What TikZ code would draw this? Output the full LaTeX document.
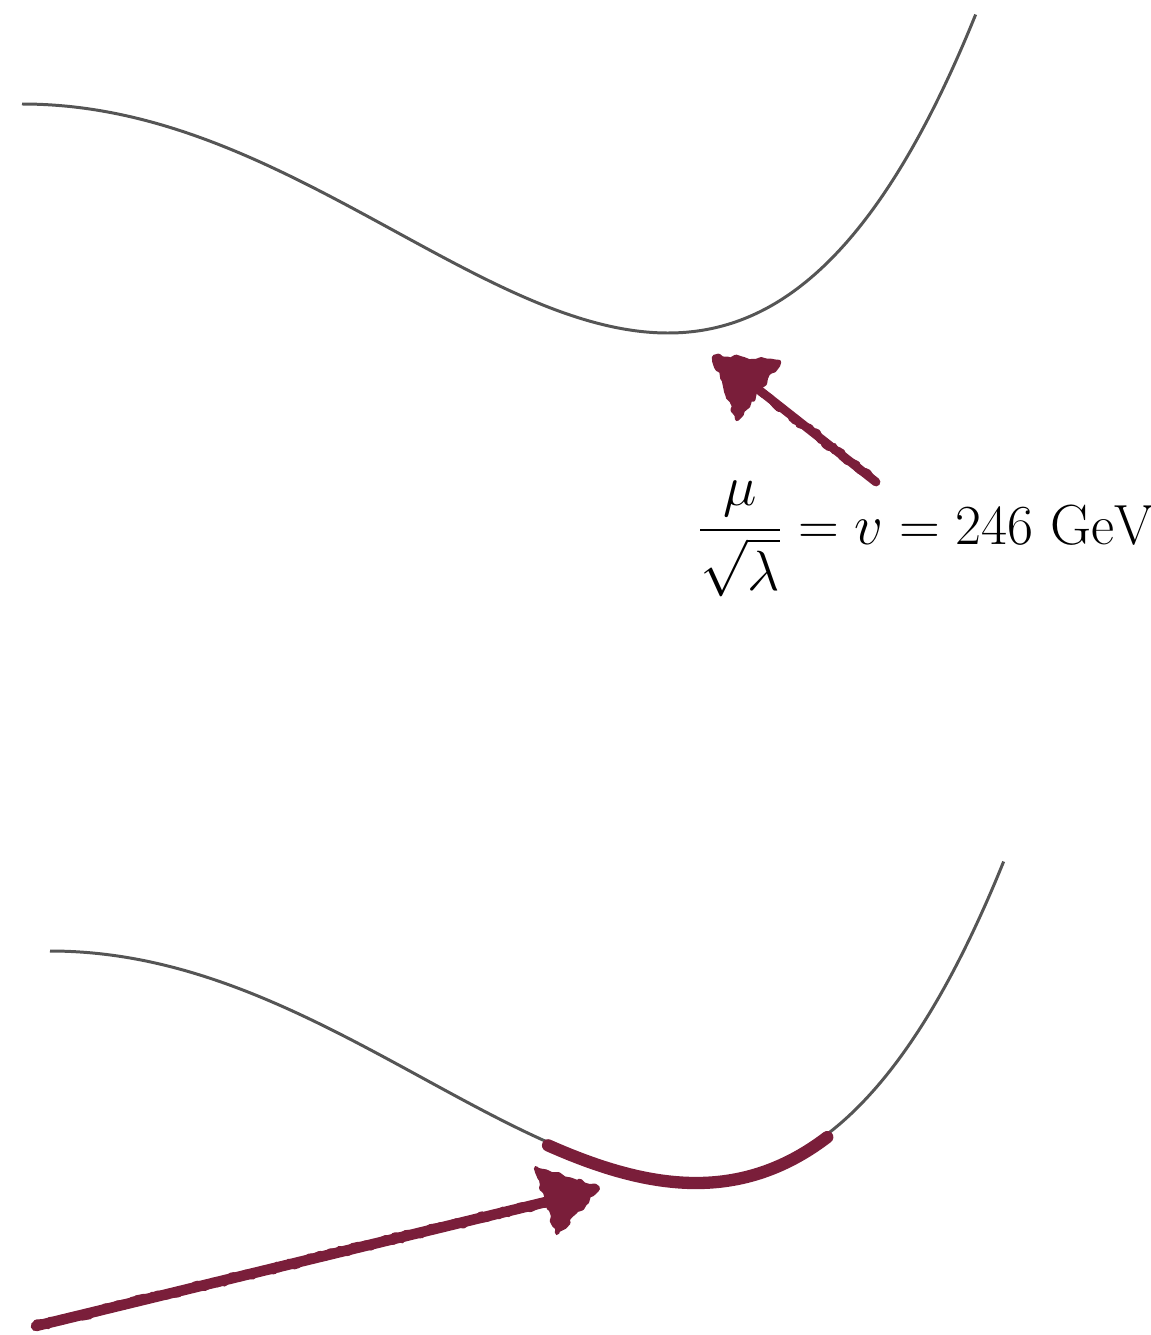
\documentclass[tikz,border=0pt]{standalone}
\usepackage{amsmath}
\usetikzlibrary{decorations.pathmorphing}
\definecolor{maroon}{RGB}{122,30,58}
\definecolor{curvegray}{RGB}{85,85,85}
\tikzset{
  potential/.style={draw=curvegray, line width=1.7pt},
  chalk/.style={draw=maroon, line width=#1, line cap=round, line join=round},
  chalkrough/.style={draw=maroon, line width=#1, line cap=round, line join=round,
     decorate, decoration={random steps, segment length=2pt, amplitude=1.4pt}},
  chalkhead/.style={fill=maroon, draw=maroon, line width=2.5pt, line join=round,
     decorate, decoration={random steps, segment length=2.5pt, amplitude=1.2pt}},
  label/.style={inner sep=0pt, font=\fontsize{24.88}{30}\selectfont, scale=1.295}
}
\begin{document}
\begin{tikzpicture}[x=0.02cm, y=-0.02cm]
\useasboundingbox (0,0) rectangle (1151,1335);
% top potential
\draw[potential] plot[domain=0:1.478, samples=120, smooth] ({22+646*\x},{104-229*(\x*\x*\x*\x-2*\x*\x)});
% bottom potential
\draw[potential] plot[domain=0:1.478, samples=120, smooth] ({50+646*\x},{951-229*(\x*\x*\x*\x-2*\x*\x)});
% highlight near the minimum
\draw[chalk=7pt] plot[domain=0.771:1.204, samples=60, smooth] ({50+646*\x},{954-229*(\x*\x*\x*\x-2*\x*\x)});
% top arrow
\coordinate (tailA) at (876,482);
\coordinate (neckA) at (754,386);
\coordinate (tipA) at (714,357);
\coordinate (wingA1) at (779,362);
\coordinate (wingA2) at (737,419);
\draw[chalk=5pt] (tailA) -- (neckA);
\draw[chalkrough=4pt] (tailA) -- (neckA);
\filldraw[chalkhead] (tipA) -- (wingA1) -- (wingA2) -- cycle;
% label
\node[label, anchor=base west] (vev) at (697,544) {$\dfrac{\mu}{\sqrt{\lambda}} = v = 246\ \mathrm{GeV}$};
% bottom arrow
\coordinate (tailB) at (36,1326);
\coordinate (neckB) at (554,1200);
\coordinate (tipB) at (598,1188);
\coordinate (wingB1) at (536,1168);
\coordinate (wingB2) at (557,1233);
\draw[chalk=6pt] (tailB) -- (neckB);
\draw[chalkrough=4.5pt] (tailB) -- (neckB);
\filldraw[chalkhead] (tipB) -- (wingB1) -- (wingB2) -- cycle;
\end{tikzpicture}
\end{document}
